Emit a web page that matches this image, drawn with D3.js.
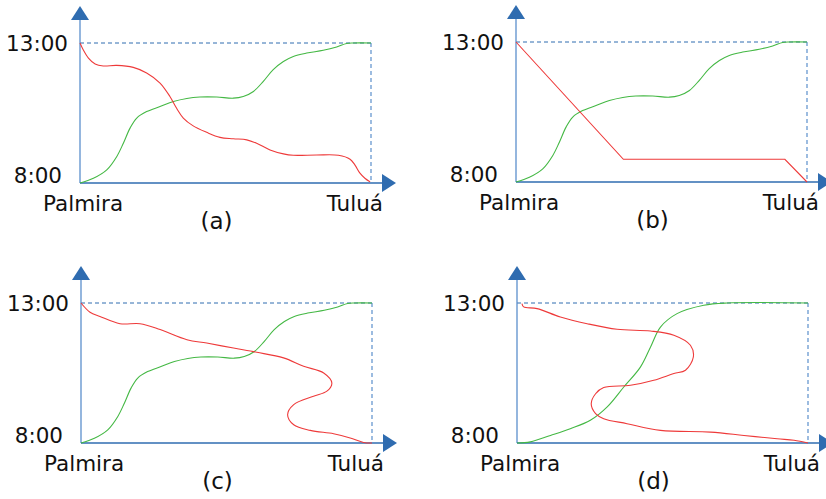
<!DOCTYPE html>
<html>
<head>
<meta charset="utf-8">
<script src="https://cdn.jsdelivr.net/npm/d3@7"></script>
<style>
  body { margin: 0; background: #fff; }
  text { font-family: "DejaVu Sans", sans-serif; fill: #111; }
</style>
</head>
<body>
<svg id="chart" width="826" height="499"></svg>
<script>
// distance along route (0 = Palmira, 1 = Tuluá) vs. hour of day
const timeTicks = [8, 13];
const timeLabels = ["8:00", "13:00"];
const places = ["Palmira", "Tuluá"];
const panelNames = ["(a)", "(b)", "(c)", "(d)"];

const greenABC = [
  [0, 8], [0.046, 8.17], [0.092, 8.47], [0.126, 8.94], [0.149, 9.42],
  [0.172, 9.96], [0.195, 10.32], [0.229, 10.55], [0.275, 10.73],
  [0.321, 10.91], [0.367, 11.02], [0.412, 11.07], [0.47, 11.07],
  [0.527, 11.03], [0.561, 11.09], [0.596, 11.27], [0.63, 11.63],
  [0.664, 12.05], [0.699, 12.34], [0.733, 12.52], [0.779, 12.64],
  [0.836, 12.74], [0.882, 12.86], [0.916, 12.98], [0.939, 13], [1, 13]
];
const redA = [
  [0, 13], [0.011, 12.76], [0.029, 12.46], [0.052, 12.25], [0.08, 12.18],
  [0.126, 12.2], [0.183, 12.13], [0.229, 11.93], [0.275, 11.57],
  [0.309, 11.09], [0.332, 10.67], [0.355, 10.32], [0.389, 10.04],
  [0.435, 9.81], [0.481, 9.63], [0.527, 9.58], [0.573, 9.54],
  [0.607, 9.42], [0.653, 9.18], [0.699, 9.04], [0.733, 8.99],
  [0.813, 9.0], [0.888, 8.99], [0.928, 8.85], [0.945, 8.64],
  [0.962, 8.35], [0.979, 8.17], [0.997, 8.04]
];
const redB = [[0, 13], [0.369, 8.81], [0.924, 8.81], [1, 8]];
const redC = [
  [0, 13], [0.031, 12.67], [0.065, 12.52], [0.134, 12.26], [0.203, 12.26],
  [0.272, 12.05], [0.364, 11.69], [0.432, 11.57], [0.524, 11.39],
  [0.604, 11.24], [0.696, 11.04], [0.765, 10.74], [0.834, 10.5],
  [0.862, 10.14], [0.845, 9.85], [0.799, 9.67], [0.731, 9.37],
  [0.71, 9.01], [0.731, 8.65], [0.788, 8.45], [0.868, 8.33],
  [0.925, 8.18], [0.971, 8.02], [1, 8]
];
const greenD = [
  [0, 8], [0.046, 8.04], [0.115, 8.27], [0.183, 8.51], [0.252, 8.81],
  [0.31, 9.29], [0.367, 10.0], [0.424, 10.71], [0.459, 11.43],
  [0.493, 12.14], [0.55, 12.62], [0.642, 12.92], [0.722, 13], [1, 13]
];
const redD = [
  [0.017, 12.98], [0.023, 12.86], [0.069, 12.8], [0.149, 12.5],
  [0.241, 12.26], [0.344, 12.06], [0.459, 12.0], [0.539, 11.85],
  [0.596, 11.49], [0.606, 11.07], [0.579, 10.6], [0.539, 10.48],
  [0.47, 10.24], [0.39, 10.06], [0.298, 9.98], [0.27, 9.76],
  [0.255, 9.4], [0.27, 9.05], [0.298, 8.87], [0.378, 8.69],
  [0.493, 8.45], [0.665, 8.39], [0.78, 8.27], [0.894, 8.15],
  [0.952, 8.1], [1, 8]
];

const panels = [
  { name: panelNames[0], ox: 80, oy: 43, green: greenABC, red: redA, redCurve: d3.curveCatmullRom },
  { name: panelNames[1], ox: 516, oy: 42, green: greenABC, red: redB, redCurve: d3.curveLinear },
  { name: panelNames[2], ox: 81, oy: 303, green: greenABC, red: redC, redCurve: d3.curveCatmullRom },
  { name: panelNames[3], ox: 517, oy: 303, green: greenD, red: redD, redCurve: d3.curveCatmullRom }
];

const W = 291, H = 140;
const axisLight = "#5b8fcc", axisDark = "#2f6cb0";

const svg = d3.select("#chart");

panels.forEach((p) => {
  const x = d3.scaleLinear().domain([0, 1]).range([p.ox, p.ox + W]);
  const y = d3.scaleLinear().domain([8, 13]).range([p.oy + H, p.oy]);
  const g = svg.append("g");

  // dashed guides
  g.append("line")
    .attr("x1", x(0)).attr("x2", x(1))
    .attr("y1", y(13)).attr("y2", y(13))
    .attr("stroke", axisDark).attr("stroke-width", 1)
    .attr("stroke-dasharray", "4,3");
  g.append("line")
    .attr("x1", x(1)).attr("x2", x(1))
    .attr("y1", y(13)).attr("y2", y(8))
    .attr("stroke", axisLight).attr("stroke-width", 1.2)
    .attr("stroke-dasharray", "4,3");

  // axes
  g.append("line")
    .attr("x1", x(0)).attr("x2", x(0))
    .attr("y1", y(8)).attr("y2", p.oy - 23)
    .attr("stroke", axisLight).attr("stroke-width", 1.3);
  g.append("line")
    .attr("x1", x(0)).attr("x2", x(1) + 12)
    .attr("y1", y(8)).attr("y2", y(8))
    .attr("stroke", axisDark).attr("stroke-width", 1.3);
  g.append("path")
    .attr("d", `M${x(0) - 9},${p.oy - 23} L${x(0) + 9},${p.oy - 23} L${x(0)},${p.oy - 37} Z`)
    .attr("fill", axisDark);
  g.append("path")
    .attr("d", `M${x(1) + 11},${y(8) - 9} L${x(1) + 11},${y(8) + 9} L${x(1) + 25},${y(8)} Z`)
    .attr("fill", axisDark);

  // curves
  g.append("path")
    .attr("d", d3.line().x((d) => x(d[0])).y((d) => y(d[1])).curve(d3.curveCatmullRom)(p.green))
    .attr("fill", "none").attr("stroke", "#44b844").attr("stroke-width", 1.1);
  g.append("path")
    .attr("d", d3.line().x((d) => x(d[0])).y((d) => y(d[1])).curve(p.redCurve)(p.red))
    .attr("fill", "none").attr("stroke", "#ee3a3a").attr("stroke-width", 1.1);

  // labels
  g.append("text")
    .attr("x", x(0) - 12).attr("y", y(13) + 8)
    .attr("text-anchor", "end").attr("font-size", 21.5)
    .text(timeLabels[1]);
  g.append("text")
    .attr("x", x(0) - 18).attr("y", y(8))
    .attr("text-anchor", "end").attr("font-size", 21.5)
    .text(timeLabels[0]);
  g.append("text")
    .attr("x", x(0) - 37).attr("y", y(8) + 28)
    .attr("font-size", 21.5)
    .text(places[0]);
  g.append("text")
    .attr("x", x(1) + 12).attr("y", y(8) + 28)
    .attr("text-anchor", "end").attr("font-size", 21.5)
    .text(places[1]);
  g.append("text")
    .attr("x", (x(0) + x(1)) / 2 - 9).attr("y", y(8) + 46)
    .attr("text-anchor", "middle").attr("font-size", 23)
    .text(p.name);
});
</script>
</body>
</html>
